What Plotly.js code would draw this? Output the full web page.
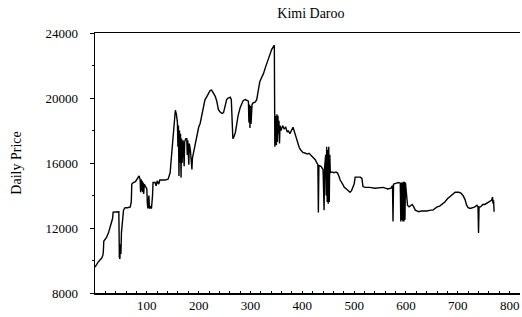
<!DOCTYPE html>
<html>
<head>
<meta charset="utf-8">
<script src="https://cdn.plot.ly/plotly-3.0.1.min.js"></script>
<style>html,body{margin:0;padding:0;background:#fff;}#chart{width:522px;height:317px;}</style>
</head>
<body>
<div id="chart"></div>
<script>
const days = [0,3,6,10,13,15,16,17,22,26,29,32,34,35,40,46,47,48,49,50,51,53,55,58,63,68,70,71,74,78,83,85,87,88,89,90,91,92,93,94,95,97,100,101,102,104,105,107,109,111,112,116,118,120,123,125,130,135,141,145,147,149,151,153,155,157,159,160,161,162,163,164,165,166,167,168,170,172,173,175,177,178,179,181,182,184,186,187,188,190,193,197,200,203,206,209,212,216,219,222,225,228,232,235,238,241,245,248,251,254,257,261,263,264,266,268,271,274,276,280,283,286,290,294,296,297,298,299,300,301,303,305,309,312,315,318,322,325,329,332,334,337,341,344,346,347,348,349,350,351,352,353,354,355,356,357,359,362,365,368,371,373,376,379,382,385,388,391,394,397,401,406,410,413,417,421,425,428,430,431,432,436,440,442,443,445,446,447,448,449,450,451,452,453,454,457,461,465,468,471,473,477,481,485,489,492,495,498,500,502,507,512,515,517,521,530,540,550,556,560,565,571,574,575,576,580,586,589,590,591,592,593,594,595,596,597,598,599,601,603,606,609,612,615,618,621,625,630,640,648,652,656,660,665,670,675,680,685,690,695,702,706,710,714,717,720,724,728,733,737,739,740,741,744,748,752,757,762,765,767,768,769,770];
const prices = [9600,9800,9900,10050,10150,10300,10500,11200,11400,11700,12000,12300,12600,12980,13000,13000,10200,10100,11000,10400,11700,12500,13100,13250,13250,13300,13600,14700,14800,14850,15100,15200,15000,14200,15000,14300,14900,14200,14800,14100,14700,14600,14400,13500,13200,14000,13200,13300,13200,14000,14800,14800,14600,14900,14700,14950,14950,14950,15000,15400,16200,17000,18200,19000,19250,19000,18500,17000,18300,15200,18000,16000,17800,15100,17500,16000,17400,15800,17300,17500,17500,16500,17400,15900,17200,16800,16000,15600,16300,16600,17200,17800,18200,18450,19000,19300,19870,20100,20300,20450,20480,20300,20100,19800,19300,19150,19050,19100,19500,19900,20000,20050,19900,18500,17500,17600,17900,18500,18900,19400,19700,19850,19900,19850,19800,18500,19600,18150,19500,18400,19600,19700,19750,19900,20400,21000,21300,21500,21900,22200,22350,22600,23000,23150,23250,17000,18000,18900,17100,19000,17300,18900,17800,18600,17200,18300,18000,18300,18100,18200,17900,18000,17800,18000,18200,17900,17600,17200,16950,16800,16650,16600,16550,16600,16450,16350,16200,16000,15900,12950,15850,15800,15600,13100,15700,16500,14000,17000,13600,16800,13500,17000,13600,16500,15400,15450,15400,15450,15380,15150,14950,14750,14500,14400,14250,14200,14300,14500,14700,15130,15150,15130,15050,14550,14500,14500,14450,14480,14500,14450,14400,14450,14600,12400,14700,14750,14800,14750,12400,14800,12500,14800,12400,14850,12400,14850,12500,14800,14000,13400,13300,13350,13450,13300,13100,13050,13000,13050,13050,13100,13100,13200,13300,13350,13450,13600,13800,13950,14100,14200,14200,14150,14000,13750,13400,13250,13200,13250,13300,13400,13300,11700,13300,13300,13450,13450,13550,13600,13700,13900,13500,13700,13000];
const xTicks = [100,200,300,400,500,600,700,800];
const yTicks = [8000,12000,16000,20000,24000];
const chartTitle = "Kimi Daroo";
const yTitle = "Daily Price";

const serif = "Liberation Serif, Times New Roman, serif";
const trace = {
  x: days, y: prices, type: "scatter", mode: "lines",
  line: {color: "#000", width: 1.4}, hoverinfo: "skip"
};
const layout = {
  width: 522, height: 317,
  margin: {l: 95, r: 2, t: 33, b: 24, pad: 0},
  paper_bgcolor: "#fff", plot_bgcolor: "#fff",
  showlegend: false,
  font: {family: serif, color: "#000", size: 13},
  title: {text: chartTitle, font: {family: serif, size: 14, color: "#000"},
          x: 0.508, xref: "paper", xanchor: "center", y: 1 - 13/317, yref: "container", yanchor: "middle"},
  xaxis: {
    range: [0, 820], tickvals: xTicks, ticktext: xTicks.map(String),
    showgrid: false, zeroline: false, showline: true, linecolor: "#000", linewidth: 1.5,
    mirror: true, ticks: "inside", ticklen: 2, tickcolor: "#000", tickwidth: 1,
    minor: {dtick: 20, tick0: 0, ticks: "inside", ticklen: 2, tickcolor: "#000", showgrid: false},
    tickfont: {family: serif, size: 13, color: "#000"}, ticklabelstandoff: 0
  },
  yaxis: {
    range: [8000, 24000], tickvals: yTicks, ticktext: yTicks.map(String),
    showgrid: false, zeroline: false, showline: true, linecolor: "#000", linewidth: 1.5,
    mirror: false, ticks: "outside", ticklen: 4, tickcolor: "#000", tickwidth: 1,
    minor: {dtick: 2000, ticks: "outside", ticklen: 2, tickcolor: "#000", showgrid: false},
    tickfont: {family: serif, size: 13, color: "#000"}, ticklabelstandoff: 9,
    title: {text: yTitle, font: {family: serif, size: 14, color: "#000"}, standoff: 20}
  }
};
Plotly.newPlot("chart", [trace], layout, {staticPlot: true, displayModeBar: false});
</script>
</body>
</html>
